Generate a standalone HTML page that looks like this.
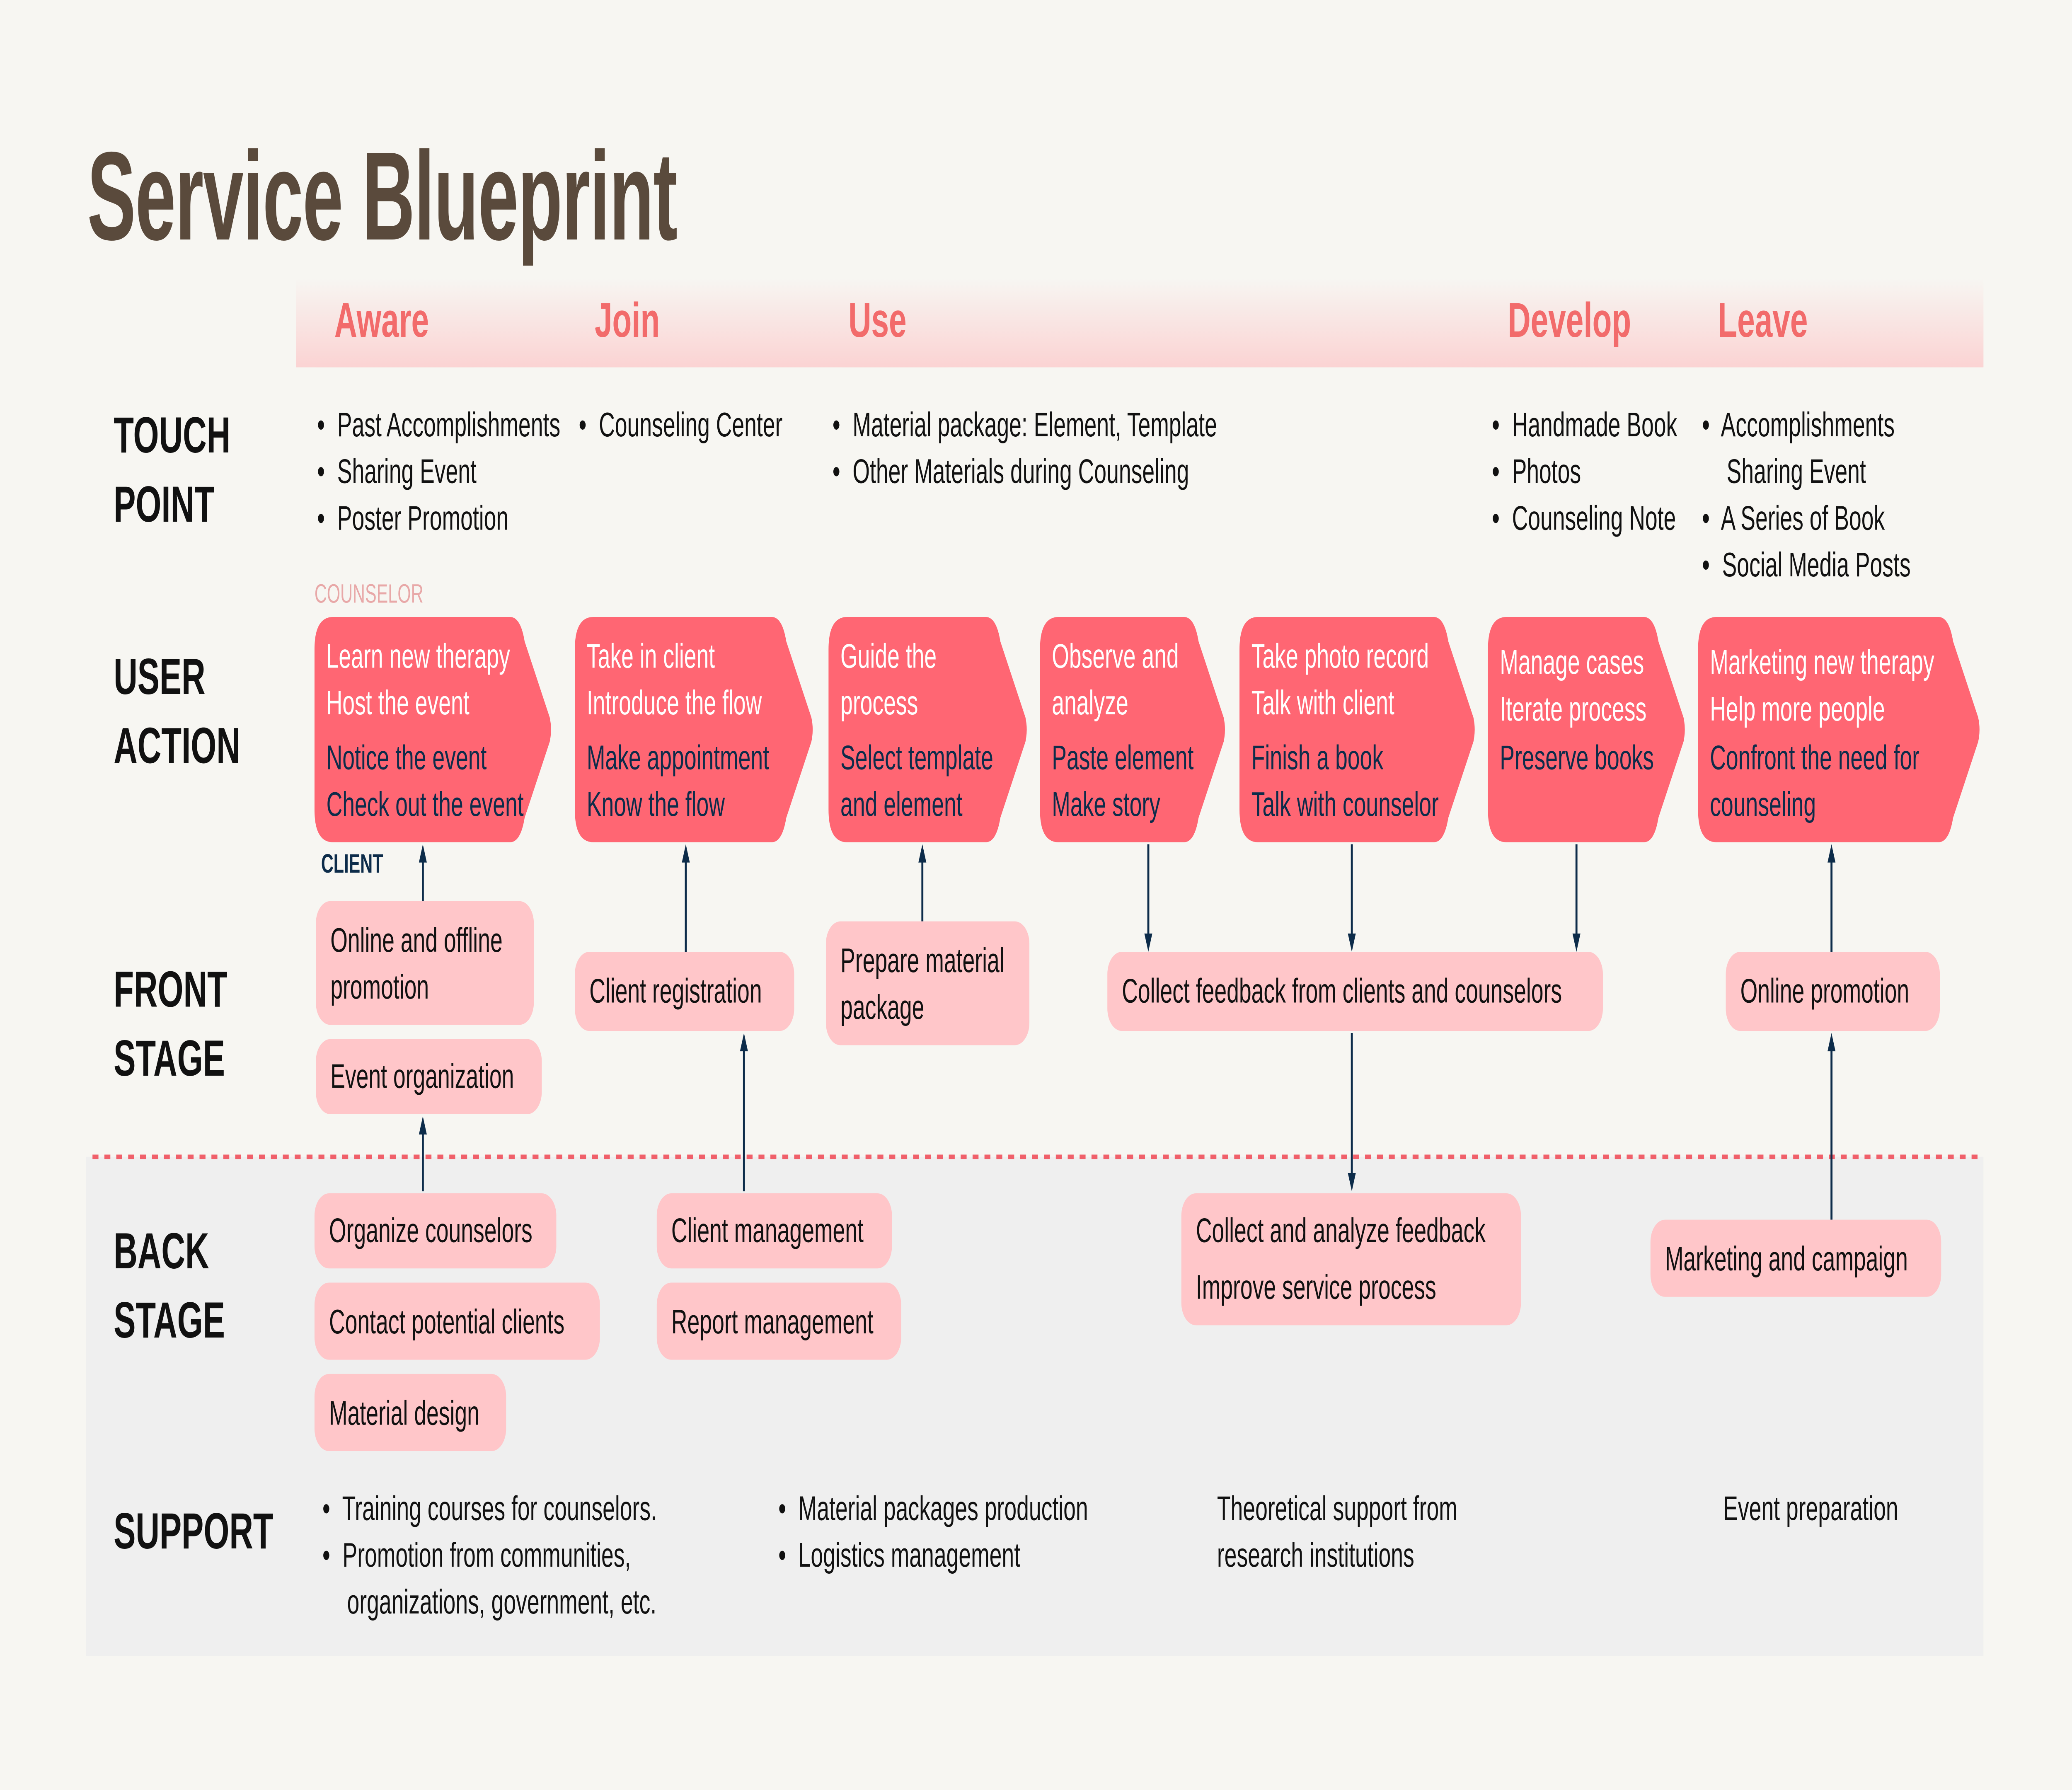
<!DOCTYPE html>
<html><head><meta charset="utf-8"><style>
html,body{margin:0;padding:0;background:#f7f6f2;}
body{width:100vw;height:100vh;overflow:hidden;}
#s{position:absolute;left:0;top:0;width:1568px;height:882px;transform:scale(4.89796);transform-origin:0 0;font-family:"Liberation Sans",sans-serif;}
.a{position:absolute;white-space:nowrap;}
.lab{font-weight:bold;font-size:25px;color:#111;line-height:34px;}
.ph{font-size:24px;color:#f26b6b;top:145px;font-weight:bold;}
.tp{font-size:16.8px;color:#111;line-height:23px;}
.box{position:absolute;background:#ffc6c9;border-radius:11px;font-size:16.8px;color:#111;line-height:23px;box-sizing:border-box;padding-left:11px;display:flex;flex-direction:column;justify-content:center;white-space:nowrap;}
.ua{position:absolute;font-size:16.8px;line-height:23px;white-space:nowrap;}
.w{color:#fff}.n{color:#0d2c4a}
</style></head><body><div id="s">
<div style="position:absolute;left:65px;top:570px;width:1436px;height:246px;background:#efefef"></div>
<div style="position:absolute;left:224px;top:137px;width:1277px;height:44px;background:linear-gradient(#f7f6f2,#fbd3d3)"></div>
<div class="a" style="left:66px;top:62px;font-size:62px;font-weight:bold;color:#5a4a3c;transform:scaleX(0.89);transform-origin:0 0;letter-spacing:-0.5px">Service Blueprint</div>
<div class="a ph" style="left:253px">Aware</div>
<div class="a ph" style="left:450px">Join</div>
<div class="a ph" style="left:642px">Use</div>
<div class="a ph" style="left:1141px">Develop</div>
<div class="a ph" style="left:1300px">Leave</div>
<div class="a lab" style="left:86px;top:198px">TOUCH<br>POINT</div>
<div class="a lab" style="left:86px;top:317px">USER<br>ACTION</div>
<div class="a lab" style="left:86px;top:471px">FRONT<br>STAGE</div>
<div class="a lab" style="left:86px;top:600px">BACK<br>STAGE</div>
<div class="a lab" style="left:86px;top:738px">SUPPORT</div>
<div class="a tp" style="left:240px;top:198px">•&nbsp; Past Accomplishments<br>•&nbsp; Sharing Event<br>•&nbsp; Poster Promotion</div>
<div class="a tp" style="left:438px;top:198px">•&nbsp; Counseling Center</div>
<div class="a tp" style="left:630px;top:198px">•&nbsp; Material package: Element, Template<br>•&nbsp; Other Materials during Counseling</div>
<div class="a tp" style="left:1129px;top:198px">•&nbsp; Handmade Book<br>•&nbsp; Photos<br>•&nbsp; Counseling Note</div>
<div class="a tp" style="left:1288px;top:198px">•&nbsp; Accomplishments<br>&nbsp;&nbsp;&nbsp;&nbsp;Sharing Event<br>•&nbsp; A Series of Book<br>•&nbsp; Social Media Posts</div>
<div class="a" style="left:238px;top:285px;font-size:13px;color:#e8a8a8">COUNSELOR</div>
<div class="a" style="left:243px;top:418px;font-size:13px;font-weight:bold;color:#0d2c4a">CLIENT</div>
<svg id="g" width="1568" height="882" style="position:absolute;left:0;top:0"></svg>
<div class="ua" style="left:247px;top:312px"><span class="w">Learn new therapy<br>Host the event</span><div style="height:4px"></div><span class="n">Notice the event<br>Check out the event</span></div>
<div class="ua" style="left:444px;top:312px"><span class="w">Take in client<br>Introduce the flow</span><div style="height:4px"></div><span class="n">Make appointment<br>Know the flow</span></div>
<div class="ua" style="left:636px;top:312px"><span class="w">Guide the<br>process</span><div style="height:4px"></div><span class="n">Select template<br>and element</span></div>
<div class="ua" style="left:796px;top:312px"><span class="w">Observe and<br>analyze</span><div style="height:4px"></div><span class="n">Paste element<br>Make story</span></div>
<div class="ua" style="left:947px;top:312px"><span class="w">Take photo record<br>Talk with client</span><div style="height:4px"></div><span class="n">Finish a book<br>Talk with counselor</span></div>
<div class="ua" style="left:1135px;top:315px"><span class="w">Manage cases<br>Iterate process</span><div style="height:1px"></div><span class="n">Preserve books</span></div>
<div class="ua" style="left:1294px;top:315px"><span class="w">Marketing new therapy<br>Help more people</span><div style="height:1px"></div><span class="n">Confront the need for<br>counseling</span></div>
<div class="box" style="left:239px;top:444px;width:165px;height:61px">Online and offline<br>promotion</div>
<div class="box" style="left:239px;top:512px;width:171px;height:37px">Event organization</div>
<div class="box" style="left:435px;top:469px;width:166px;height:39px">Client registration</div>
<div class="box" style="left:625px;top:454px;width:154px;height:61px">Prepare material<br>package</div>
<div class="box" style="left:838px;top:469px;width:375px;height:39px">Collect feedback from clients and counselors</div>
<div class="box" style="left:1306px;top:469px;width:162px;height:39px">Online promotion</div>
<div class="box" style="left:238px;top:588px;width:183px;height:37px">Organize counselors</div>
<div class="box" style="left:238px;top:632px;width:216px;height:38px">Contact potential clients</div>
<div class="box" style="left:238px;top:677px;width:145px;height:38px">Material design</div>
<div class="box" style="left:497px;top:588px;width:178px;height:37px">Client management</div>
<div class="box" style="left:497px;top:632px;width:185px;height:38px">Report management</div>
<div class="box" style="left:894px;top:588px;width:257px;height:65px;line-height:28px">Collect and analyze feedback<br>Improve service process</div>
<div class="box" style="left:1249px;top:601px;width:220px;height:38px">Marketing and campaign</div>
<div class="a tp" style="left:244px;top:732px">•&nbsp; Training courses for counselors.<br>•&nbsp; Promotion from communities,<br>&nbsp;&nbsp;&nbsp;&nbsp;organizations, government, etc.</div>
<div class="a tp" style="left:589px;top:732px">•&nbsp; Material packages production<br>•&nbsp; Logistics management</div>
<div class="a tp" style="left:921px;top:732px">Theoretical support from<br>research institutions</div>
<div class="a tp" style="left:1304px;top:732px">Event preparation</div>
</div>
<script>
(function(){
var W=document.documentElement.clientWidth||window.innerWidth||7680;
var H=document.documentElement.clientHeight||window.innerHeight||4320;
document.getElementById('s').style.transform='scale('+(W/1568)+','+(H/882)+')';
})();
var g=document.getElementById('g'),h='';
[[238,418],[435,616],[627,778],[787,928],[938,1117],[1126,1276],[1285,1499]].forEach(function(c){
var a=c[0],b=c[1],t=304,B=415,m=359.5;
h+='<path fill="#ff6673" d="M'+(a+14)+' '+t+' H'+(b-32)+' Q'+(b-24)+' '+t+' '+(b-21)+' '+(t+12)+' L'+(b-2)+' '+(m-6)+' Q'+b+' '+m+' '+(b-2)+' '+(m+6)+' L'+(b-21)+' '+(B-12)+' Q'+(b-24)+' '+B+' '+(b-32)+' '+B+' H'+(a+14)+' Q'+a+' '+B+' '+a+' '+(B-16)+' V'+(t+16)+' Q'+a+' '+t+' '+(a+14)+' '+t+'Z"/>';});
h+='<line x1="70" y1="570" x2="1501" y2="570" stroke="#f0606a" stroke-width="2.2" stroke-dasharray="4.5 4.5"/>';
function ar(x,y1,y2){var d=y2>y1?1:-1;h+='<line x1="'+x+'" y1="'+y1+'" x2="'+x+'" y2="'+(y2-d*6)+'" stroke="#0d2c4a" stroke-width="1.5"/><path fill="#0d2c4a" d="M'+x+' '+y2+' L'+(x-3)+' '+(y2-d*9)+' L'+(x+3)+' '+(y2-d*9)+'Z"/>';}
ar(320,444,416);ar(320,587,550);ar(519,469,416);ar(563,587,509);ar(698,454,416);
ar(869,416,469);ar(1023,416,469);ar(1193,416,469);ar(1023,509,587);ar(1386,469,416);ar(1386,601,509);
g.innerHTML=h;
</script>
</body></html>
